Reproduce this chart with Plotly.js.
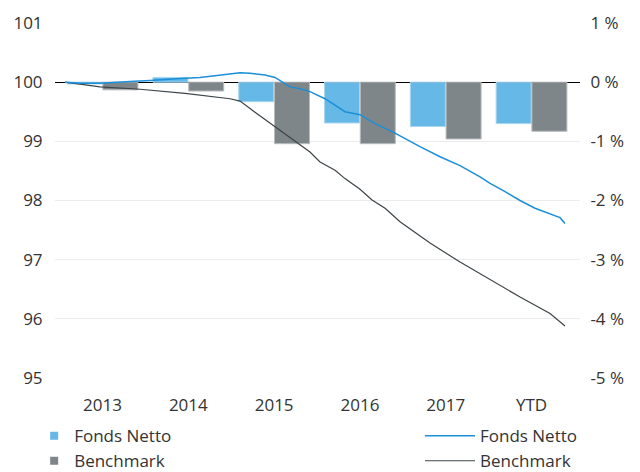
<!DOCTYPE html>
<html>
<head>
<meta charset="utf-8">
<script src="https://cdn.plot.ly/plotly-3.0.1.min.js"></script>
<style>html,body{margin:0;padding:0;background:#fff;}#chart{width:640px;height:472px;}</style>
</head>
<body>
<div id="chart"></div>
<script>
// Categories and bar values (right axis, %)
const categories = ['2013', '2014', '2015', '2016', '2017', 'YTD'];
const fondsBars = [-0.03, 0.08, -0.33, -0.69, -0.75, -0.70];
const benchBars = [-0.13, -0.15, -1.04, -1.04, -0.96, -0.83];

// Indexed lines (left axis), time in fractional years
const fondsT = [2013.063, 2013.238, 2013.471, 2013.646, 2013.821, 2014.054, 2014.228, 2014.403, 2014.636, 2014.811, 2014.986, 2015.103, 2015.219, 2015.394, 2015.510, 2015.604, 2015.685, 2015.802, 2015.918, 2016.093, 2016.210, 2016.326, 2016.501, 2016.676, 2016.909, 2017.200, 2017.434, 2017.667, 2017.900, 2018.017, 2018.192, 2018.366, 2018.541, 2018.716, 2018.832, 2018.890];
const fondsV = [100.00, 99.98, 99.98, 99.99, 100.01, 100.03, 100.05, 100.06, 100.08, 100.11, 100.15, 100.16, 100.15, 100.12, 100.08, 99.99, 99.92, 99.89, 99.84, 99.72, 99.61, 99.50, 99.45, 99.30, 99.14, 98.91, 98.74, 98.59, 98.40, 98.29, 98.15, 98.00, 97.87, 97.78, 97.71, 97.61];
const benchT = [2013.063, 2013.471, 2013.937, 2014.462, 2014.986, 2015.103, 2015.277, 2015.452, 2015.685, 2015.918, 2016.035, 2016.210, 2016.326, 2016.501, 2016.641, 2016.793, 2016.967, 2017.317, 2017.667, 2018.017, 2018.366, 2018.716, 2018.890];
const benchV = [100.00, 99.92, 99.88, 99.81, 99.72, 99.68, 99.49, 99.31, 99.07, 98.82, 98.65, 98.51, 98.37, 98.19, 98.01, 97.87, 97.64, 97.28, 96.96, 96.66, 96.37, 96.09, 95.88];

// Tick labels
const leftTicks = [95, 96, 97, 98, 99, 100, 101];
const rightTickVals = [-5, -4, -3, -2, -1, 0, 1];
const rightTickText = ['-5 %', '-4 %', '-3 %', '-2 %', '-1 %', '0 %', '1 %'];

const seriesNames = ['Fonds Netto', 'Benchmark'];
const barColors = ['#66b9e6', '#7f868a'];
const barEdge = ['#a9d7f0', '#b9bcbe'];
const lineColors = ['#1b8fd8', '#3d4448'];

const font = {family: 'Open Sans, Noto Sans, sans-serif', size: 17, color: '#333'};

const traces = [
  {type: 'bar', x: categories, y: fondsBars, xaxis: 'x', yaxis: 'y', name: seriesNames[0],
   marker: {color: barColors[0], line: {color: barEdge[0], width: 1}}, showlegend: false, hoverinfo: 'skip'},
  {type: 'bar', x: categories, y: benchBars, xaxis: 'x', yaxis: 'y', name: seriesNames[1],
   marker: {color: barColors[1], line: {color: barEdge[1], width: 1}}, showlegend: false, hoverinfo: 'skip'},
  {type: 'scatter', mode: 'lines', x: benchT, y: benchV, xaxis: 'x2', yaxis: 'y2', name: seriesNames[1],
   line: {color: lineColors[1], width: 1.2}, showlegend: false},
  {type: 'scatter', mode: 'lines', x: fondsT, y: fondsV, xaxis: 'x2', yaxis: 'y2', name: seriesNames[0],
   line: {color: lineColors[0], width: 1.5}, showlegend: false},
  // legend entries
  {type: 'scatter', mode: 'markers', x: [null], y: [null], xaxis: 'x2', yaxis: 'y2', name: seriesNames[0],
   marker: {symbol: 'square', size: 8, color: barColors[0]}, legend: 'legend'},
  {type: 'scatter', mode: 'markers', x: [null], y: [null], xaxis: 'x2', yaxis: 'y2', name: seriesNames[1],
   marker: {symbol: 'square', size: 8, color: barColors[1]}, legend: 'legend'},
  {type: 'scatter', mode: 'lines', x: [null], y: [null], xaxis: 'x2', yaxis: 'y2', name: seriesNames[0],
   line: {color: lineColors[0], width: 1.5}, legend: 'legend2'},
  {type: 'scatter', mode: 'lines', x: [null], y: [null], xaxis: 'x2', yaxis: 'y2', name: seriesNames[1],
   line: {color: lineColors[1], width: 1.2}, legend: 'legend2'}
];

const layout = {
  width: 640, height: 472,
  margin: {l: 55, r: 60, t: 23, b: 94, autoexpand: false},
  paper_bgcolor: '#fff', plot_bgcolor: '#fff',
  font: font,
  barmode: 'group', bargap: 0.167, bargroupgap: 0.02,
  showlegend: true,
  xaxis: {type: 'category', range: [-0.554, 5.565], showgrid: false, zeroline: false, showline: false,
          ticks: 'outside', ticklen: 12, tickcolor: 'rgba(0,0,0,0)', tickfont: font},
  xaxis2: {overlaying: 'x', type: 'linear', range: [2012.946, 2019.065], visible: false},
  yaxis: {side: 'right', range: [-5, 1], tickvals: rightTickVals, ticktext: rightTickText,
          showgrid: true, gridcolor: '#ececec', gridwidth: 1,
          zeroline: true, zerolinecolor: '#000', zerolinewidth: 1.2, showline: false,
          ticks: 'outside', ticklen: 6, tickcolor: 'rgba(0,0,0,0)', tickfont: font},
  yaxis2: {overlaying: 'y', side: 'left', range: [95, 101], tickvals: leftTicks, showgrid: false,
           zeroline: false, showline: false, ticks: 'outside', ticklen: 8, tickcolor: 'rgba(0,0,0,0)', tickfont: font},
  legend: {x: -0.0397, xanchor: 'left', y: -0.113, yanchor: 'top', orientation: 'v', font: font,
           bgcolor: 'rgba(0,0,0,0)', tracegroupgap: 0},
  legend2: {x: 0.6952, xanchor: 'left', y: -0.113, yanchor: 'top', orientation: 'v', font: font,
            bgcolor: 'rgba(0,0,0,0)', itemwidth: 50}
};

Plotly.newPlot('chart', traces, layout, {displayModeBar: false, staticPlot: true});
</script>
</body>
</html>
